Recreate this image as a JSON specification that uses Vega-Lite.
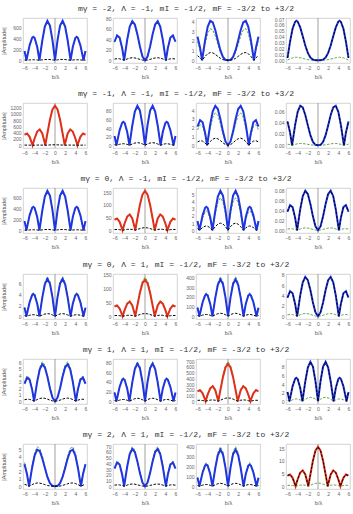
{
"$schema":"https://vega.github.io/schema/vega-lite/v6.json",
"padding":{"left":1,"top":5,"right":2,"bottom":0},
"spacing":10,
"config":{
"view":{"stroke":"#c8c8c8","strokeWidth":0.8},
"axis":{"labelFont":"Liberation Sans","labelFontSize":5,"labelColor":"#666","titleFont":"Liberation Sans","titleFontSize":5.5,"titleFontWeight":"normal","titleColor":"#555","grid":false,"domain":false,"ticks":false,"labelPadding":2,"labelOverlap":false,"format":"d"},
"axisX":{"titlePadding":4,"labelFlush":false},
"axisY":{"titlePadding":1.5,"labelOverlap":false},
"title":{"font":"Liberation Mono","fontSize":8,"fontWeight":"normal","color":"#333","offset":3,"anchor":"middle","dx":9}
},
"datasets":{
"r1":[
{"c":1,"b":-6,"a":170,"g":166,"k":3.4},{"c":1,"b":-5.613,"a":0,"g":0,"k":0},{"c":1,"b":-5.5,"a":53,"g":52,"k":1.1},{"c":1,"b":-5,"a":276,"g":271,"k":5.5},{"c":1,"b":-4.5,"a":415,"g":407,"k":8.3},{"c":1,"b":-4.265,"a":434,"g":426,"k":8.7},{"c":1,"b":-4,"a":411,"g":403,"k":8.2},{"c":1,"b":-3.5,"a":245,"g":240,"k":4.9},{"c":1,"b":-3.065,"a":0,"g":0,"k":0},{"c":1,"b":-3,"a":41.8,"g":41,"k":0.8},{"c":1,"b":-2.5,"a":365,"g":358,"k":7.3},{"c":1,"b":-2,"a":624,"g":611,"k":12.5},{"c":1,"b":-1.5,"a":730,"g":715,"k":14.6},{"c":1,"b":-1,"a":641,"g":628,"k":12.8},{"c":1,"b":-0.5,"a":373,"g":366,"k":7.5},{"c":1,"b":0,"a":0,"g":0,"k":0},
{"c":1,"b":0.5,"a":373,"g":366,"k":7.5},{"c":1,"b":1,"a":641,"g":628,"k":12.8},{"c":1,"b":1.5,"a":730,"g":715,"k":14.6},{"c":1,"b":2,"a":624,"g":611,"k":12.5},{"c":1,"b":2.5,"a":365,"g":358,"k":7.3},{"c":1,"b":3,"a":41.8,"g":41,"k":0.8},{"c":1,"b":3.065,"a":0,"g":0,"k":0},{"c":1,"b":3.5,"a":245,"g":240,"k":4.9},{"c":1,"b":4,"a":411,"g":403,"k":8.2},{"c":1,"b":4.265,"a":434,"g":426,"k":8.7},{"c":1,"b":4.5,"a":415,"g":407,"k":8.3},{"c":1,"b":5,"a":276,"g":271,"k":5.5},{"c":1,"b":5.5,"a":53,"g":52,"k":1.1},{"c":1,"b":5.613,"a":0,"g":0,"k":0},{"c":1,"b":6,"a":170,"g":166,"k":3.4},
{"c":2,"b":-6,"a":35.5,"g":34.4,"k":2.31},{"c":2,"b":-5.5,"a":47.7,"g":46.3,"k":3.1},{"c":2,"b":-5,"a":43.7,"g":42.4,"k":2.84},{"c":2,"b":-4.5,"a":23.5,"g":22.8,"k":1.53},{"c":2,"b":-4.109,"a":0,"g":0,"k":0},{"c":2,"b":-4,"a":7.18,"g":6.96,"k":0.47},{"c":2,"b":-3.5,"a":39.7,"g":38.5,"k":2.58},{"c":2,"b":-3,"a":64.5,"g":62.6,"k":4.19},{"c":2,"b":-2.5,"a":74.8,"g":72.6,"k":4.86},{"c":2,"b":-2,"a":68.7,"g":66.6,"k":4.47},{"c":2,"b":-1.5,"a":49.9,"g":48.4,"k":3.24},{"c":2,"b":-1,"a":26.3,"g":25.6,"k":1.71},{"c":2,"b":-0.5,"a":7.28,"g":7.06,"k":0.47},{"c":2,"b":0,"a":0,"g":0,"k":0},
{"c":2,"b":0.5,"a":7.28,"g":7.06,"k":0.47},{"c":2,"b":1,"a":26.3,"g":25.6,"k":1.71},{"c":2,"b":1.5,"a":49.9,"g":48.4,"k":3.24},{"c":2,"b":2,"a":68.7,"g":66.6,"k":4.47},{"c":2,"b":2.5,"a":74.8,"g":72.6,"k":4.86},{"c":2,"b":3,"a":64.5,"g":62.6,"k":4.19},{"c":2,"b":3.5,"a":39.7,"g":38.5,"k":2.58},{"c":2,"b":4,"a":7.18,"g":6.96,"k":0.47},{"c":2,"b":4.109,"a":0,"g":0,"k":0},{"c":2,"b":4.5,"a":23.5,"g":22.8,"k":1.53},{"c":2,"b":5,"a":43.7,"g":42.4,"k":2.84},{"c":2,"b":5.5,"a":47.7,"g":46.3,"k":3.1},{"c":2,"b":6,"a":35.5,"g":34.4,"k":2.31},
{"c":3,"b":-6,"a":2.436,"g":1.948,"k":0.475},{"c":3,"b":-5.5,"a":1.303,"g":1.042,"k":0.254},{"c":3,"b":-5.104,"a":0,"g":0,"k":0},{"c":3,"b":-5,"a":0.362,"g":0.289,"k":0.071},{"c":3,"b":-4.5,"a":2.097,"g":1.677,"k":0.409},{"c":3,"b":-4,"a":3.445,"g":2.756,"k":0.672},{"c":3,"b":-3.5,"a":4.064,"g":3.251,"k":0.793},{"c":3,"b":-3,"a":3.902,"g":3.122,"k":0.761},{"c":3,"b":-2.5,"a":3.123,"g":2.498,"k":0.609},{"c":3,"b":-2,"a":2.046,"g":1.636,"k":0.399},{"c":3,"b":-1.5,"a":1.036,"g":0.828,"k":0.202},{"c":3,"b":-1,"a":0.348,"g":0.279,"k":0.068},{"c":3,"b":-0.5,"a":0.047,"g":0.038,"k":0.009},{"c":3,"b":0,"a":0,"g":0,"k":0},
{"c":3,"b":0.5,"a":0.047,"g":0.038,"k":0.009},{"c":3,"b":1,"a":0.348,"g":0.279,"k":0.068},{"c":3,"b":1.5,"a":1.036,"g":0.828,"k":0.202},{"c":3,"b":2,"a":2.046,"g":1.636,"k":0.399},{"c":3,"b":2.5,"a":3.123,"g":2.498,"k":0.609},{"c":3,"b":3,"a":3.902,"g":3.122,"k":0.761},{"c":3,"b":3.5,"a":4.064,"g":3.251,"k":0.793},{"c":3,"b":4,"a":3.445,"g":2.756,"k":0.672},{"c":3,"b":4.5,"a":2.097,"g":1.677,"k":0.409},{"c":3,"b":5,"a":0.362,"g":0.289,"k":0.071},{"c":3,"b":5.104,"a":0,"g":0,"k":0},{"c":3,"b":5.5,"a":1.303,"g":1.042,"k":0.254},{"c":3,"b":6,"a":2.436,"g":1.948,"k":0.475},
{"c":4,"b":-6,"a":0.004,"g":0.0003},{"c":4,"b":-5.5,"a":0.0317,"g":0.00238},{"c":4,"b":-5,"a":0.0537,"g":0.00403},{"c":4,"b":-4.5,"a":0.0653,"g":0.0049},{"c":4,"b":-4.254,"a":0.067,"g":0.00502},{"c":4,"b":-4,"a":0.0656,"g":0.00492},{"c":4,"b":-3.5,"a":0.0558,"g":0.00418},{"c":4,"b":-3,"a":0.0407,"g":0.00305},{"c":4,"b":-2.5,"a":0.025,"g":0.00188},{"c":4,"b":-2,"a":0.0124,"g":0.00093},{"c":4,"b":-1.5,"a":0.00451,"g":0.00034},{"c":4,"b":-1,"a":0.00099,"g":0.00007},{"c":4,"b":-0.5,"a":0.00007,"g":0},{"c":4,"b":0,"a":0,"g":0},
{"c":4,"b":0.5,"a":0.00007,"g":0},{"c":4,"b":1,"a":0.00099,"g":0.00007},{"c":4,"b":1.5,"a":0.00451,"g":0.00034},{"c":4,"b":2,"a":0.0124,"g":0.00093},{"c":4,"b":2.5,"a":0.025,"g":0.00188},{"c":4,"b":3,"a":0.0407,"g":0.00305},{"c":4,"b":3.5,"a":0.0558,"g":0.00418},{"c":4,"b":4,"a":0.0656,"g":0.00492},{"c":4,"b":4.254,"a":0.067,"g":0.00502},{"c":4,"b":4.5,"a":0.0653,"g":0.0049},{"c":4,"b":5,"a":0.0537,"g":0.00403},{"c":4,"b":5.5,"a":0.0317,"g":0.00238},{"c":4,"b":6,"a":0.004,"g":0.0003}
],
"r2":[
{"c":1,"b":-6,"a":336,"g":332,"k":4},{"c":1,"b":-5.5,"a":375,"g":371,"k":4.5},{"c":1,"b":-5,"a":269,"g":266,"k":3.2},{"c":1,"b":-4.5,"a":44.4,"g":43.9,"k":0.5},{"c":1,"b":-4.416,"a":0,"g":0,"k":0},{"c":1,"b":-4,"a":224,"g":222,"k":2.7},{"c":1,"b":-3.5,"a":437,"g":432,"k":5.2},{"c":1,"b":-3,"a":505,"g":500,"k":6.1},{"c":1,"b":-2.5,"a":377,"g":373,"k":4.5},{"c":1,"b":-2,"a":61,"g":60.4,"k":0.7},{"c":1,"b":-1.924,"a":0,"g":0,"k":0},{"c":1,"b":-1.5,"a":374,"g":370,"k":4.5},{"c":1,"b":-1,"a":814,"g":806,"k":9.8},{"c":1,"b":-0.5,"a":1140,"g":1128,"k":13.7},{"c":1,"b":0,"a":1260,"g":1247,"k":15.1},
{"c":1,"b":0.5,"a":1140,"g":1128,"k":13.7},{"c":1,"b":1,"a":814,"g":806,"k":9.8},{"c":1,"b":1.5,"a":374,"g":370,"k":4.5},{"c":1,"b":1.924,"a":0,"g":0,"k":0},{"c":1,"b":2,"a":61,"g":60.4,"k":0.7},{"c":1,"b":2.5,"a":377,"g":373,"k":4.5},{"c":1,"b":3,"a":505,"g":500,"k":6.1},{"c":1,"b":3.5,"a":437,"g":432,"k":5.2},{"c":1,"b":4,"a":224,"g":222,"k":2.7},{"c":1,"b":4.416,"a":0,"g":0,"k":0},{"c":1,"b":4.5,"a":44.4,"g":43.9,"k":0.5},{"c":1,"b":5,"a":269,"g":266,"k":3.2},{"c":1,"b":5.5,"a":375,"g":371,"k":4.5},{"c":1,"b":6,"a":336,"g":332,"k":4},
{"c":2,"b":-6,"a":21.4,"g":21,"k":1.39},{"c":2,"b":-5.613,"a":0,"g":0,"k":0},{"c":2,"b":-5.5,"a":6.67,"g":6.5,"k":0.43},{"c":2,"b":-5,"a":34.8,"g":34.1,"k":2.26},{"c":2,"b":-4.5,"a":52.3,"g":51.3,"k":3.4},{"c":2,"b":-4.265,"a":54.7,"g":53.6,"k":3.56},{"c":2,"b":-4,"a":51.8,"g":50.8,"k":3.37},{"c":2,"b":-3.5,"a":30.8,"g":30.2,"k":2},{"c":2,"b":-3.065,"a":0,"g":0,"k":0},{"c":2,"b":-3,"a":5.26,"g":5.15,"k":0.34},{"c":2,"b":-2.5,"a":46,"g":45.1,"k":2.99},{"c":2,"b":-2,"a":78.5,"g":76.9,"k":5.1},{"c":2,"b":-1.5,"a":91.9,"g":90.1,"k":5.97},{"c":2,"b":-1,"a":80.6,"g":79,"k":5.24},{"c":2,"b":-0.5,"a":47,"g":46.1,"k":3.06},{"c":2,"b":0,"a":0,"g":0,"k":0},
{"c":2,"b":0.5,"a":47,"g":46.1,"k":3.06},{"c":2,"b":1,"a":80.6,"g":79,"k":5.24},{"c":2,"b":1.5,"a":91.9,"g":90.1,"k":5.97},{"c":2,"b":2,"a":78.5,"g":76.9,"k":5.1},{"c":2,"b":2.5,"a":46,"g":45.1,"k":2.99},{"c":2,"b":3,"a":5.26,"g":5.15,"k":0.34},{"c":2,"b":3.065,"a":0,"g":0,"k":0},{"c":2,"b":3.5,"a":30.8,"g":30.2,"k":2},{"c":2,"b":4,"a":51.8,"g":50.8,"k":3.37},{"c":2,"b":4.265,"a":54.7,"g":53.6,"k":3.56},{"c":2,"b":4.5,"a":52.3,"g":51.3,"k":3.4},{"c":2,"b":5,"a":34.8,"g":34.1,"k":2.26},{"c":2,"b":5.5,"a":6.67,"g":6.5,"k":0.43},{"c":2,"b":5.613,"a":0,"g":0,"k":0},{"c":2,"b":6,"a":21.4,"g":21,"k":1.39},
{"c":3,"b":-6,"a":2.129,"g":1.746,"k":0.383},{"c":3,"b":-5.5,"a":2.866,"g":2.35,"k":0.516},{"c":3,"b":-5,"a":2.626,"g":2.153,"k":0.473},{"c":3,"b":-4.5,"a":1.413,"g":1.159,"k":0.254},{"c":3,"b":-4.109,"a":0,"g":0,"k":0},{"c":3,"b":-4,"a":0.431,"g":0.354,"k":0.078},{"c":3,"b":-3.5,"a":2.382,"g":1.953,"k":0.429},{"c":3,"b":-3,"a":3.874,"g":3.177,"k":0.697},{"c":3,"b":-2.5,"a":4.494,"g":3.685,"k":0.809},{"c":3,"b":-2,"a":4.126,"g":3.384,"k":0.743},{"c":3,"b":-1.5,"a":2.997,"g":2.458,"k":0.539},{"c":3,"b":-1,"a":1.583,"g":1.298,"k":0.285},{"c":3,"b":-0.5,"a":0.438,"g":0.359,"k":0.079},{"c":3,"b":0,"a":0,"g":0,"k":0},
{"c":3,"b":0.5,"a":0.438,"g":0.359,"k":0.079},{"c":3,"b":1,"a":1.583,"g":1.298,"k":0.285},{"c":3,"b":1.5,"a":2.997,"g":2.458,"k":0.539},{"c":3,"b":2,"a":4.126,"g":3.384,"k":0.743},{"c":3,"b":2.5,"a":4.494,"g":3.685,"k":0.809},{"c":3,"b":3,"a":3.874,"g":3.177,"k":0.697},{"c":3,"b":3.5,"a":2.382,"g":1.953,"k":0.429},{"c":3,"b":4,"a":0.431,"g":0.354,"k":0.078},{"c":3,"b":4.109,"a":0,"g":0,"k":0},{"c":3,"b":4.5,"a":1.413,"g":1.159,"k":0.254},{"c":3,"b":5,"a":2.626,"g":2.153,"k":0.473},{"c":3,"b":5.5,"a":2.866,"g":2.35,"k":0.516},{"c":3,"b":6,"a":2.129,"g":1.746,"k":0.383},
{"c":4,"b":-6,"a":0.0421,"g":0.0019},{"c":4,"b":-5.5,"a":0.0225,"g":0.001},{"c":4,"b":-5.104,"a":0,"g":0},{"c":4,"b":-5,"a":0.0062,"g":0.0003},{"c":4,"b":-4.5,"a":0.0362,"g":0.0016},{"c":4,"b":-4,"a":0.0595,"g":0.0027},{"c":4,"b":-3.5,"a":0.0702,"g":0.0032},{"c":4,"b":-3,"a":0.0674,"g":0.003},{"c":4,"b":-2.5,"a":0.0539,"g":0.0024},{"c":4,"b":-2,"a":0.0353,"g":0.0016},{"c":4,"b":-1.5,"a":0.0179,"g":0.0008},{"c":4,"b":-1,"a":0.006,"g":0.0003},{"c":4,"b":-0.5,"a":0.0008,"g":0},{"c":4,"b":0,"a":0,"g":0},
{"c":4,"b":0.5,"a":0.0008,"g":0},{"c":4,"b":1,"a":0.006,"g":0.0003},{"c":4,"b":1.5,"a":0.0179,"g":0.0008},{"c":4,"b":2,"a":0.0353,"g":0.0016},{"c":4,"b":2.5,"a":0.0539,"g":0.0024},{"c":4,"b":3,"a":0.0674,"g":0.003},{"c":4,"b":3.5,"a":0.0702,"g":0.0032},{"c":4,"b":4,"a":0.0595,"g":0.0027},{"c":4,"b":4.5,"a":0.0362,"g":0.0016},{"c":4,"b":5,"a":0.0062,"g":0.0003},{"c":4,"b":5.104,"a":0,"g":0},{"c":4,"b":5.5,"a":0.0225,"g":0.001},{"c":4,"b":6,"a":0.0421,"g":0.0019}
],
"r3":[
{"c":1,"b":-6,"a":167,"g":164,"k":3.3},{"c":1,"b":-5.613,"a":0,"g":0,"k":0},{"c":1,"b":-5.5,"a":52.2,"g":51.2,"k":1},{"c":1,"b":-5,"a":272,"g":267,"k":5.4},{"c":1,"b":-4.5,"a":409,"g":401,"k":8.2},{"c":1,"b":-4.265,"a":428,"g":420,"k":8.6},{"c":1,"b":-4,"a":405,"g":397,"k":8.1},{"c":1,"b":-3.5,"a":241,"g":237,"k":4.8},{"c":1,"b":-3.065,"a":0,"g":0,"k":0},{"c":1,"b":-3,"a":41.2,"g":40.4,"k":0.8},{"c":1,"b":-2.5,"a":360,"g":353,"k":7.2},{"c":1,"b":-2,"a":615,"g":603,"k":12.3},{"c":1,"b":-1.5,"a":720,"g":705,"k":14.4},{"c":1,"b":-1,"a":631,"g":619,"k":12.6},{"c":1,"b":-0.5,"a":368,"g":361,"k":7.4},{"c":1,"b":0,"a":0,"g":0,"k":0},
{"c":1,"b":0.5,"a":368,"g":361,"k":7.4},{"c":1,"b":1,"a":631,"g":619,"k":12.6},{"c":1,"b":1.5,"a":720,"g":705,"k":14.4},{"c":1,"b":2,"a":615,"g":603,"k":12.3},{"c":1,"b":2.5,"a":360,"g":353,"k":7.2},{"c":1,"b":3,"a":41.2,"g":40.4,"k":0.8},{"c":1,"b":3.065,"a":0,"g":0,"k":0},{"c":1,"b":3.5,"a":241,"g":237,"k":4.8},{"c":1,"b":4,"a":405,"g":397,"k":8.1},{"c":1,"b":4.265,"a":428,"g":420,"k":8.6},{"c":1,"b":4.5,"a":409,"g":401,"k":8.2},{"c":1,"b":5,"a":272,"g":267,"k":5.4},{"c":1,"b":5.5,"a":52.2,"g":51.2,"k":1},{"c":1,"b":5.613,"a":0,"g":0,"k":0},{"c":1,"b":6,"a":167,"g":164,"k":3.3},
{"c":2,"b":-6,"a":41.3,"g":40.9,"k":2.68},{"c":2,"b":-5.5,"a":46.1,"g":45.7,"k":3},{"c":2,"b":-5,"a":33.1,"g":32.8,"k":2.15},{"c":2,"b":-4.5,"a":5.46,"g":5.4,"k":0.35},{"c":2,"b":-4.416,"a":0,"g":0,"k":0},{"c":2,"b":-4,"a":27.5,"g":27.3,"k":1.79},{"c":2,"b":-3.5,"a":53.7,"g":53.2,"k":3.49},{"c":2,"b":-3,"a":62.2,"g":61.5,"k":4.04},{"c":2,"b":-2.5,"a":46.4,"g":45.9,"k":3.01},{"c":2,"b":-2,"a":7.5,"g":7.43,"k":0.49},{"c":2,"b":-1.924,"a":0,"g":0,"k":0},{"c":2,"b":-1.5,"a":45.9,"g":45.5,"k":2.99},{"c":2,"b":-1,"a":100,"g":99.1,"k":6.51},{"c":2,"b":-0.5,"a":140,"g":139,"k":9.11},{"c":2,"b":0,"a":155,"g":153,"k":10.1},
{"c":2,"b":0.5,"a":140,"g":139,"k":9.11},{"c":2,"b":1,"a":100,"g":99.1,"k":6.51},{"c":2,"b":1.5,"a":45.9,"g":45.5,"k":2.99},{"c":2,"b":1.924,"a":0,"g":0,"k":0},{"c":2,"b":2,"a":7.5,"g":7.43,"k":0.49},{"c":2,"b":2.5,"a":46.4,"g":45.9,"k":3.01},{"c":2,"b":3,"a":62.2,"g":61.5,"k":4.04},{"c":2,"b":3.5,"a":53.7,"g":53.2,"k":3.49},{"c":2,"b":4,"a":27.5,"g":27.3,"k":1.79},{"c":2,"b":4.416,"a":0,"g":0,"k":0},{"c":2,"b":4.5,"a":5.46,"g":5.4,"k":0.35},{"c":2,"b":5,"a":33.1,"g":32.8,"k":2.15},{"c":2,"b":5.5,"a":46.1,"g":45.7,"k":3},{"c":2,"b":6,"a":41.3,"g":40.9,"k":2.68},
{"c":3,"b":-6,"a":1.28,"g":1.05,"k":0.23},{"c":3,"b":-5.613,"a":0,"g":0,"k":0},{"c":3,"b":-5.5,"a":0.4,"g":0.327,"k":0.072},{"c":3,"b":-5,"a":2.08,"g":1.71,"k":0.374},{"c":3,"b":-4.5,"a":3.13,"g":2.56,"k":0.563},{"c":3,"b":-4.265,"a":3.27,"g":2.68,"k":0.589},{"c":3,"b":-4,"a":3.1,"g":2.54,"k":0.557},{"c":3,"b":-3.5,"a":1.84,"g":1.51,"k":0.332},{"c":3,"b":-3.065,"a":0,"g":0,"k":0},{"c":3,"b":-3,"a":0.315,"g":0.258,"k":0.057},{"c":3,"b":-2.5,"a":2.75,"g":2.26,"k":0.495},{"c":3,"b":-2,"a":4.7,"g":3.85,"k":0.846},{"c":3,"b":-1.5,"a":5.5,"g":4.51,"k":0.989},{"c":3,"b":-1,"a":4.82,"g":3.96,"k":0.868},{"c":3,"b":-0.5,"a":2.81,"g":2.31,"k":0.506},{"c":3,"b":0,"a":0,"g":0,"k":0},
{"c":3,"b":0.5,"a":2.81,"g":2.31,"k":0.506},{"c":3,"b":1,"a":4.82,"g":3.96,"k":0.868},{"c":3,"b":1.5,"a":5.5,"g":4.51,"k":0.989},{"c":3,"b":2,"a":4.7,"g":3.85,"k":0.846},{"c":3,"b":2.5,"a":2.75,"g":2.26,"k":0.495},{"c":3,"b":3,"a":0.315,"g":0.258,"k":0.057},{"c":3,"b":3.065,"a":0,"g":0,"k":0},{"c":3,"b":3.5,"a":1.84,"g":1.51,"k":0.332},{"c":3,"b":4,"a":3.1,"g":2.54,"k":0.557},{"c":3,"b":4.265,"a":3.27,"g":2.68,"k":0.589},{"c":3,"b":4.5,"a":3.13,"g":2.56,"k":0.563},{"c":3,"b":5,"a":2.08,"g":1.71,"k":0.374},{"c":3,"b":5.5,"a":0.4,"g":0.327,"k":0.072},{"c":3,"b":5.613,"a":0,"g":0,"k":0},{"c":3,"b":6,"a":1.28,"g":1.05,"k":0.23},
{"c":4,"b":-6,"a":0.0378,"g":0.0023},{"c":4,"b":-5.5,"a":0.0509,"g":0.0031},{"c":4,"b":-5,"a":0.0467,"g":0.0028},{"c":4,"b":-4.5,"a":0.0251,"g":0.0015},{"c":4,"b":-4.109,"a":0,"g":0},{"c":4,"b":-4,"a":0.0077,"g":0.0005},{"c":4,"b":-3.5,"a":0.0423,"g":0.0025},{"c":4,"b":-3,"a":0.0689,"g":0.0041},{"c":4,"b":-2.5,"a":0.0799,"g":0.0048},{"c":4,"b":-2,"a":0.0733,"g":0.0044},{"c":4,"b":-1.5,"a":0.0533,"g":0.0032},{"c":4,"b":-1,"a":0.0281,"g":0.0017},{"c":4,"b":-0.5,"a":0.0078,"g":0.0005},{"c":4,"b":0,"a":0,"g":0},
{"c":4,"b":0.5,"a":0.0078,"g":0.0005},{"c":4,"b":1,"a":0.0281,"g":0.0017},{"c":4,"b":1.5,"a":0.0533,"g":0.0032},{"c":4,"b":2,"a":0.0733,"g":0.0044},{"c":4,"b":2.5,"a":0.0799,"g":0.0048},{"c":4,"b":3,"a":0.0689,"g":0.0041},{"c":4,"b":3.5,"a":0.0423,"g":0.0025},{"c":4,"b":4,"a":0.0077,"g":0.0005},{"c":4,"b":4.109,"a":0,"g":0},{"c":4,"b":4.5,"a":0.0251,"g":0.0015},{"c":4,"b":5,"a":0.0467,"g":0.0028},{"c":4,"b":5.5,"a":0.0509,"g":0.0031},{"c":4,"b":6,"a":0.0378,"g":0.0023}
],
"r4":[
{"c":1,"b":-6,"a":1.58,"g":1.68,"k":0.111},{"c":1,"b":-5.613,"a":0,"g":0,"k":0},{"c":1,"b":-5.5,"a":0.494,"g":0.524,"k":0.035},{"c":1,"b":-5,"a":2.57,"g":2.73,"k":0.18},{"c":1,"b":-4.5,"a":3.87,"g":4.1,"k":0.271},{"c":1,"b":-4.265,"a":4.05,"g":4.29,"k":0.283},{"c":1,"b":-4,"a":3.83,"g":4.06,"k":0.268},{"c":1,"b":-3.5,"a":2.28,"g":2.42,"k":0.16},{"c":1,"b":-3.065,"a":0,"g":0,"k":0},{"c":1,"b":-3,"a":0.39,"g":0.413,"k":0.027},{"c":1,"b":-2.5,"a":3.41,"g":3.61,"k":0.238},{"c":1,"b":-2,"a":5.82,"g":6.17,"k":0.407},{"c":1,"b":-1.5,"a":6.81,"g":7.21,"k":0.476},{"c":1,"b":-1,"a":5.97,"g":6.33,"k":0.418},{"c":1,"b":-0.5,"a":3.48,"g":3.69,"k":0.244},{"c":1,"b":0,"a":0,"g":0,"k":0},
{"c":1,"b":0.5,"a":3.48,"g":3.69,"k":0.244},{"c":1,"b":1,"a":5.97,"g":6.33,"k":0.418},{"c":1,"b":1.5,"a":6.81,"g":7.21,"k":0.476},{"c":1,"b":2,"a":5.82,"g":6.17,"k":0.407},{"c":1,"b":2.5,"a":3.41,"g":3.61,"k":0.238},{"c":1,"b":3,"a":0.39,"g":0.413,"k":0.027},{"c":1,"b":3.065,"a":0,"g":0,"k":0},{"c":1,"b":3.5,"a":2.28,"g":2.42,"k":0.16},{"c":1,"b":4,"a":3.83,"g":4.06,"k":0.268},{"c":1,"b":4.265,"a":4.05,"g":4.29,"k":0.283},{"c":1,"b":4.5,"a":3.87,"g":4.1,"k":0.271},{"c":1,"b":5,"a":2.57,"g":2.73,"k":0.18},{"c":1,"b":5.5,"a":0.494,"g":0.524,"k":0.035},{"c":1,"b":5.613,"a":0,"g":0,"k":0},{"c":1,"b":6,"a":1.58,"g":1.68,"k":0.111},
{"c":2,"b":-6,"a":34.6,"g":37,"k":2.6},{"c":2,"b":-5.5,"a":38.7,"g":41.4,"k":2.9},{"c":2,"b":-5,"a":27.8,"g":29.7,"k":2.08},{"c":2,"b":-4.5,"a":4.58,"g":4.9,"k":0.34},{"c":2,"b":-4.416,"a":0,"g":0,"k":0},{"c":2,"b":-4,"a":23.1,"g":24.7,"k":1.73},{"c":2,"b":-3.5,"a":45.1,"g":48.2,"k":3.38},{"c":2,"b":-3,"a":52.1,"g":55.8,"k":3.91},{"c":2,"b":-2.5,"a":38.9,"g":41.6,"k":2.92},{"c":2,"b":-2,"a":6.29,"g":6.73,"k":0.47},{"c":2,"b":-1.924,"a":0,"g":0,"k":0},{"c":2,"b":-1.5,"a":38.5,"g":41.2,"k":2.89},{"c":2,"b":-1,"a":84,"g":89.8,"k":6.3},{"c":2,"b":-0.5,"a":118,"g":126,"k":8.82},{"c":2,"b":0,"a":130,"g":139,"k":9.75},
{"c":2,"b":0.5,"a":118,"g":126,"k":8.82},{"c":2,"b":1,"a":84,"g":89.8,"k":6.3},{"c":2,"b":1.5,"a":38.5,"g":41.2,"k":2.89},{"c":2,"b":1.924,"a":0,"g":0,"k":0},{"c":2,"b":2,"a":6.29,"g":6.73,"k":0.47},{"c":2,"b":2.5,"a":38.9,"g":41.6,"k":2.92},{"c":2,"b":3,"a":52.1,"g":55.8,"k":3.91},{"c":2,"b":3.5,"a":45.1,"g":48.2,"k":3.38},{"c":2,"b":4,"a":23.1,"g":24.7,"k":1.73},{"c":2,"b":4.416,"a":0,"g":0,"k":0},{"c":2,"b":4.5,"a":4.58,"g":4.9,"k":0.34},{"c":2,"b":5,"a":27.8,"g":29.7,"k":2.08},{"c":2,"b":5.5,"a":38.7,"g":41.4,"k":2.9},{"c":2,"b":6,"a":34.6,"g":37,"k":2.6},
{"c":3,"b":-6,"a":88.3,"g":94.5,"k":7.06},{"c":3,"b":-5.613,"a":0,"g":0,"k":0},{"c":3,"b":-5.5,"a":27.6,"g":29.5,"k":2.2},{"c":3,"b":-5,"a":144,"g":154,"k":11.5},{"c":3,"b":-4.5,"a":216,"g":231,"k":17.3},{"c":3,"b":-4.265,"a":226,"g":242,"k":18.1},{"c":3,"b":-4,"a":214,"g":229,"k":17.1},{"c":3,"b":-3.5,"a":127,"g":136,"k":10.2},{"c":3,"b":-3.065,"a":0,"g":0,"k":0},{"c":3,"b":-3,"a":21.7,"g":23.2,"k":1.74},{"c":3,"b":-2.5,"a":190,"g":203,"k":15.2},{"c":3,"b":-2,"a":325,"g":347,"k":26},{"c":3,"b":-1.5,"a":380,"g":407,"k":30.4},{"c":3,"b":-1,"a":333,"g":357,"k":26.7},{"c":3,"b":-0.5,"a":194,"g":208,"k":15.5},{"c":3,"b":0,"a":0,"g":0,"k":0},
{"c":3,"b":0.5,"a":194,"g":208,"k":15.5},{"c":3,"b":1,"a":333,"g":357,"k":26.7},{"c":3,"b":1.5,"a":380,"g":407,"k":30.4},{"c":3,"b":2,"a":325,"g":347,"k":26},{"c":3,"b":2.5,"a":190,"g":203,"k":15.2},{"c":3,"b":3,"a":21.7,"g":23.2,"k":1.74},{"c":3,"b":3.065,"a":0,"g":0,"k":0},{"c":3,"b":3.5,"a":127,"g":136,"k":10.2},{"c":3,"b":4,"a":214,"g":229,"k":17.1},{"c":3,"b":4.265,"a":226,"g":242,"k":18.1},{"c":3,"b":4.5,"a":216,"g":231,"k":17.3},{"c":3,"b":5,"a":144,"g":154,"k":11.5},{"c":3,"b":5.5,"a":27.6,"g":29.5,"k":2.2},{"c":3,"b":5.613,"a":0,"g":0,"k":0},{"c":3,"b":6,"a":88.3,"g":94.5,"k":7.06},
{"c":4,"b":-6,"a":3.59,"g":0.251},{"c":4,"b":-5.5,"a":4.83,"g":0.338},{"c":4,"b":-5,"a":4.43,"g":0.31},{"c":4,"b":-4.5,"a":2.38,"g":0.167},{"c":4,"b":-4.109,"a":0,"g":0},{"c":4,"b":-4,"a":0.727,"g":0.051},{"c":4,"b":-3.5,"a":4.02,"g":0.281},{"c":4,"b":-3,"a":6.53,"g":0.457},{"c":4,"b":-2.5,"a":7.58,"g":0.53},{"c":4,"b":-2,"a":6.96,"g":0.487},{"c":4,"b":-1.5,"a":5.05,"g":0.354},{"c":4,"b":-1,"a":2.67,"g":0.187},{"c":4,"b":-0.5,"a":0.738,"g":0.052},{"c":4,"b":0,"a":0,"g":0},
{"c":4,"b":0.5,"a":0.738,"g":0.052},{"c":4,"b":1,"a":2.67,"g":0.187},{"c":4,"b":1.5,"a":5.05,"g":0.354},{"c":4,"b":2,"a":6.96,"g":0.487},{"c":4,"b":2.5,"a":7.58,"g":0.53},{"c":4,"b":3,"a":6.53,"g":0.457},{"c":4,"b":3.5,"a":4.02,"g":0.281},{"c":4,"b":4,"a":0.727,"g":0.051},{"c":4,"b":4.109,"a":0,"g":0},{"c":4,"b":4.5,"a":2.38,"g":0.167},{"c":4,"b":5,"a":4.43,"g":0.31},{"c":4,"b":5.5,"a":4.83,"g":0.338},{"c":4,"b":6,"a":3.59,"g":0.251}
],
"r5":[
{"c":1,"b":-6,"a":2.69,"g":2.88,"k":0.229},{"c":1,"b":-5.5,"a":3.62,"g":3.88,"k":0.308},{"c":1,"b":-5,"a":3.32,"g":3.55,"k":0.282},{"c":1,"b":-4.5,"a":1.79,"g":1.91,"k":0.152},{"c":1,"b":-4.109,"a":0,"g":0,"k":0},{"c":1,"b":-4,"a":0.545,"g":0.583,"k":0.046},{"c":1,"b":-3.5,"a":3.01,"g":3.22,"k":0.256},{"c":1,"b":-3,"a":4.9,"g":5.24,"k":0.417},{"c":1,"b":-2.5,"a":5.68,"g":6.08,"k":0.483},{"c":1,"b":-2,"a":5.22,"g":5.59,"k":0.444},{"c":1,"b":-1.5,"a":3.79,"g":4.06,"k":0.322},{"c":1,"b":-1,"a":2,"g":2.14,"k":0.17},{"c":1,"b":-0.5,"a":0.553,"g":0.592,"k":0.047},{"c":1,"b":0,"a":0,"g":0,"k":0},
{"c":1,"b":0.5,"a":0.553,"g":0.592,"k":0.047},{"c":1,"b":1,"a":2,"g":2.14,"k":0.17},{"c":1,"b":1.5,"a":3.79,"g":4.06,"k":0.322},{"c":1,"b":2,"a":5.22,"g":5.59,"k":0.444},{"c":1,"b":2.5,"a":5.68,"g":6.08,"k":0.483},{"c":1,"b":3,"a":4.9,"g":5.24,"k":0.417},{"c":1,"b":3.5,"a":3.01,"g":3.22,"k":0.256},{"c":1,"b":4,"a":0.545,"g":0.583,"k":0.046},{"c":1,"b":4.109,"a":0,"g":0,"k":0},{"c":1,"b":4.5,"a":1.79,"g":1.91,"k":0.152},{"c":1,"b":5,"a":3.32,"g":3.55,"k":0.282},{"c":1,"b":5.5,"a":3.62,"g":3.88,"k":0.308},{"c":1,"b":6,"a":2.69,"g":2.88,"k":0.229},
{"c":2,"b":-6,"a":18.1,"g":19,"k":1.45},{"c":2,"b":-5.613,"a":0,"g":0,"k":0},{"c":2,"b":-5.5,"a":5.65,"g":5.93,"k":0.45},{"c":2,"b":-5,"a":29.5,"g":31,"k":2.36},{"c":2,"b":-4.5,"a":44.3,"g":46.5,"k":3.54},{"c":2,"b":-4.265,"a":46.4,"g":48.7,"k":3.71},{"c":2,"b":-4,"a":43.9,"g":46.1,"k":3.51},{"c":2,"b":-3.5,"a":26.1,"g":27.4,"k":2.09},{"c":2,"b":-3.065,"a":0,"g":0,"k":0},{"c":2,"b":-3,"a":4.46,"g":4.68,"k":0.36},{"c":2,"b":-2.5,"a":39,"g":41,"k":3.12},{"c":2,"b":-2,"a":66.6,"g":69.9,"k":5.33},{"c":2,"b":-1.5,"a":77.9,"g":81.8,"k":6.23},{"c":2,"b":-1,"a":68.4,"g":71.8,"k":5.47},{"c":2,"b":-0.5,"a":39.9,"g":41.9,"k":3.19},{"c":2,"b":0,"a":0,"g":0,"k":0},
{"c":2,"b":0.5,"a":39.9,"g":41.9,"k":3.19},{"c":2,"b":1,"a":68.4,"g":71.8,"k":5.47},{"c":2,"b":1.5,"a":77.9,"g":81.8,"k":6.23},{"c":2,"b":2,"a":66.6,"g":69.9,"k":5.33},{"c":2,"b":2.5,"a":39,"g":41,"k":3.12},{"c":2,"b":3,"a":4.46,"g":4.68,"k":0.36},{"c":2,"b":3.065,"a":0,"g":0,"k":0},{"c":2,"b":3.5,"a":26.1,"g":27.4,"k":2.09},{"c":2,"b":4,"a":43.9,"g":46.1,"k":3.51},{"c":2,"b":4.265,"a":46.4,"g":48.7,"k":3.71},{"c":2,"b":4.5,"a":44.3,"g":46.5,"k":3.54},{"c":2,"b":5,"a":29.5,"g":31,"k":2.36},{"c":2,"b":5.5,"a":5.65,"g":5.93,"k":0.45},{"c":2,"b":5.613,"a":0,"g":0,"k":0},{"c":2,"b":6,"a":18.1,"g":19,"k":1.45},
{"c":3,"b":-6,"a":173,"g":184,"k":15.6},{"c":3,"b":-5.5,"a":193,"g":205,"k":17.4},{"c":3,"b":-5,"a":139,"g":147,"k":12.5},{"c":3,"b":-4.5,"a":22.9,"g":24.3,"k":2.06},{"c":3,"b":-4.416,"a":0,"g":0,"k":0},{"c":3,"b":-4,"a":115,"g":122,"k":10.4},{"c":3,"b":-3.5,"a":225,"g":239,"k":20.3},{"c":3,"b":-3,"a":261,"g":276,"k":23.5},{"c":3,"b":-2.5,"a":194,"g":206,"k":17.5},{"c":3,"b":-2,"a":31.5,"g":33.4,"k":2.83},{"c":3,"b":-1.924,"a":0,"g":0,"k":0},{"c":3,"b":-1.5,"a":193,"g":204,"k":17.3},{"c":3,"b":-1,"a":420,"g":445,"k":37.8},{"c":3,"b":-0.5,"a":588,"g":623,"k":52.9},{"c":3,"b":0,"a":650,"g":689,"k":58.5},
{"c":3,"b":0.5,"a":588,"g":623,"k":52.9},{"c":3,"b":1,"a":420,"g":445,"k":37.8},{"c":3,"b":1.5,"a":193,"g":204,"k":17.3},{"c":3,"b":1.924,"a":0,"g":0,"k":0},{"c":3,"b":2,"a":31.5,"g":33.4,"k":2.83},{"c":3,"b":2.5,"a":194,"g":206,"k":17.5},{"c":3,"b":3,"a":261,"g":276,"k":23.5},{"c":3,"b":3.5,"a":225,"g":239,"k":20.3},{"c":3,"b":4,"a":115,"g":122,"k":10.4},{"c":3,"b":4.416,"a":0,"g":0,"k":0},{"c":3,"b":4.5,"a":22.9,"g":24.3,"k":2.06},{"c":3,"b":5,"a":139,"g":147,"k":12.5},{"c":3,"b":5.5,"a":193,"g":205,"k":17.4},{"c":3,"b":6,"a":173,"g":184,"k":15.6},
{"c":4,"b":-6,"a":2.14,"g":0.214},{"c":4,"b":-5.613,"a":0,"g":0},{"c":4,"b":-5.5,"a":0.667,"g":0.067},{"c":4,"b":-5,"a":3.48,"g":0.348},{"c":4,"b":-4.5,"a":5.23,"g":0.523},{"c":4,"b":-4.265,"a":5.47,"g":0.547},{"c":4,"b":-4,"a":5.18,"g":0.518},{"c":4,"b":-3.5,"a":3.08,"g":0.308},{"c":4,"b":-3.065,"a":0,"g":0},{"c":4,"b":-3,"a":0.526,"g":0.053},{"c":4,"b":-2.5,"a":4.6,"g":0.46},{"c":4,"b":-2,"a":7.85,"g":0.785},{"c":4,"b":-1.5,"a":9.19,"g":0.919},{"c":4,"b":-1,"a":8.06,"g":0.806},{"c":4,"b":-0.5,"a":4.7,"g":0.47},{"c":4,"b":0,"a":0,"g":0},
{"c":4,"b":0.5,"a":4.7,"g":0.47},{"c":4,"b":1,"a":8.06,"g":0.806},{"c":4,"b":1.5,"a":9.19,"g":0.919},{"c":4,"b":2,"a":7.85,"g":0.785},{"c":4,"b":2.5,"a":4.6,"g":0.46},{"c":4,"b":3,"a":0.526,"g":0.053},{"c":4,"b":3.065,"a":0,"g":0},{"c":4,"b":3.5,"a":3.08,"g":0.308},{"c":4,"b":4,"a":5.18,"g":0.518},{"c":4,"b":4.265,"a":5.47,"g":0.547},{"c":4,"b":4.5,"a":5.23,"g":0.523},{"c":4,"b":5,"a":3.48,"g":0.348},{"c":4,"b":5.5,"a":0.667,"g":0.067},{"c":4,"b":5.613,"a":0,"g":0},{"c":4,"b":6,"a":2.14,"g":0.214}
],
"r6":[
{"c":1,"b":-6,"a":2.97,"g":3.2,"k":0.267},{"c":1,"b":-5.5,"a":1.59,"g":1.71,"k":0.143},{"c":1,"b":-5.104,"a":0,"g":0,"k":0},{"c":1,"b":-5,"a":0.44,"g":0.476,"k":0.04},{"c":1,"b":-4.5,"a":2.55,"g":2.76,"k":0.23},{"c":1,"b":-4,"a":4.2,"g":4.53,"k":0.378},{"c":1,"b":-3.5,"a":4.95,"g":5.35,"k":0.446},{"c":1,"b":-3,"a":4.75,"g":5.13,"k":0.428},{"c":1,"b":-2.5,"a":3.8,"g":4.11,"k":0.342},{"c":1,"b":-2,"a":2.49,"g":2.69,"k":0.224},{"c":1,"b":-1.5,"a":1.26,"g":1.36,"k":0.114},{"c":1,"b":-1,"a":0.424,"g":0.458,"k":0.038},{"c":1,"b":-0.5,"a":0.058,"g":0.062,"k":0.005},{"c":1,"b":0,"a":0,"g":0,"k":0},
{"c":1,"b":0.5,"a":0.058,"g":0.062,"k":0.005},{"c":1,"b":1,"a":0.424,"g":0.458,"k":0.038},{"c":1,"b":1.5,"a":1.26,"g":1.36,"k":0.114},{"c":1,"b":2,"a":2.49,"g":2.69,"k":0.224},{"c":1,"b":2.5,"a":3.8,"g":4.11,"k":0.342},{"c":1,"b":3,"a":4.75,"g":5.13,"k":0.428},{"c":1,"b":3.5,"a":4.95,"g":5.35,"k":0.446},{"c":1,"b":4,"a":4.2,"g":4.53,"k":0.378},{"c":1,"b":4.5,"a":2.55,"g":2.76,"k":0.23},{"c":1,"b":5,"a":0.44,"g":0.476,"k":0.04},{"c":1,"b":5.104,"a":0,"g":0,"k":0},{"c":1,"b":5.5,"a":1.59,"g":1.71,"k":0.143},{"c":1,"b":6,"a":2.97,"g":3.2,"k":0.267},
{"c":2,"b":-6,"a":30.8,"g":32.6,"k":1.85},{"c":2,"b":-5.5,"a":41.4,"g":43.9,"k":2.48},{"c":2,"b":-5,"a":37.9,"g":40.2,"k":2.28},{"c":2,"b":-4.5,"a":20.4,"g":21.6,"k":1.22},{"c":2,"b":-4.109,"a":0,"g":0,"k":0},{"c":2,"b":-4,"a":6.23,"g":6.6,"k":0.37},{"c":2,"b":-3.5,"a":34.4,"g":36.5,"k":2.06},{"c":2,"b":-3,"a":56,"g":59.3,"k":3.36},{"c":2,"b":-2.5,"a":64.9,"g":68.8,"k":3.89},{"c":2,"b":-2,"a":59.6,"g":63.2,"k":3.58},{"c":2,"b":-1.5,"a":43.3,"g":45.9,"k":2.6},{"c":2,"b":-1,"a":22.9,"g":24.2,"k":1.37},{"c":2,"b":-0.5,"a":6.32,"g":6.7,"k":0.38},{"c":2,"b":0,"a":0,"g":0,"k":0},
{"c":2,"b":0.5,"a":6.32,"g":6.7,"k":0.38},{"c":2,"b":1,"a":22.9,"g":24.2,"k":1.37},{"c":2,"b":1.5,"a":43.3,"g":45.9,"k":2.6},{"c":2,"b":2,"a":59.6,"g":63.2,"k":3.58},{"c":2,"b":2.5,"a":64.9,"g":68.8,"k":3.89},{"c":2,"b":3,"a":56,"g":59.3,"k":3.36},{"c":2,"b":3.5,"a":34.4,"g":36.5,"k":2.06},{"c":2,"b":4,"a":6.23,"g":6.6,"k":0.37},{"c":2,"b":4.109,"a":0,"g":0,"k":0},{"c":2,"b":4.5,"a":20.4,"g":21.6,"k":1.22},{"c":2,"b":5,"a":37.9,"g":40.2,"k":2.28},{"c":2,"b":5.5,"a":41.4,"g":43.9,"k":2.48},{"c":2,"b":6,"a":30.8,"g":32.6,"k":1.85},
{"c":3,"b":-6,"a":86,"g":92.9,"k":6.88},{"c":3,"b":-5.613,"a":0,"g":0,"k":0},{"c":3,"b":-5.5,"a":26.8,"g":28.9,"k":2.14},{"c":3,"b":-5,"a":140,"g":151,"k":11.2},{"c":3,"b":-4.5,"a":210,"g":227,"k":16.8},{"c":3,"b":-4.265,"a":220,"g":238,"k":17.6},{"c":3,"b":-4,"a":208,"g":225,"k":16.7},{"c":3,"b":-3.5,"a":124,"g":134,"k":9.93},{"c":3,"b":-3.065,"a":0,"g":0,"k":0},{"c":3,"b":-3,"a":21.2,"g":22.9,"k":1.7},{"c":3,"b":-2.5,"a":185,"g":200,"k":14.8},{"c":3,"b":-2,"a":316,"g":342,"k":25.3},{"c":3,"b":-1.5,"a":370,"g":400,"k":29.6},{"c":3,"b":-1,"a":325,"g":351,"k":26},{"c":3,"b":-0.5,"a":189,"g":204,"k":15.1},{"c":3,"b":0,"a":0,"g":0,"k":0},
{"c":3,"b":0.5,"a":189,"g":204,"k":15.1},{"c":3,"b":1,"a":325,"g":351,"k":26},{"c":3,"b":1.5,"a":370,"g":400,"k":29.6},{"c":3,"b":2,"a":316,"g":342,"k":25.3},{"c":3,"b":2.5,"a":185,"g":200,"k":14.8},{"c":3,"b":3,"a":21.2,"g":22.9,"k":1.7},{"c":3,"b":3.065,"a":0,"g":0,"k":0},{"c":3,"b":3.5,"a":124,"g":134,"k":9.93},{"c":3,"b":4,"a":208,"g":225,"k":16.7},{"c":3,"b":4.265,"a":220,"g":238,"k":17.6},{"c":3,"b":4.5,"a":210,"g":227,"k":16.8},{"c":3,"b":5,"a":140,"g":151,"k":11.2},{"c":3,"b":5.5,"a":26.8,"g":28.9,"k":2.14},{"c":3,"b":5.613,"a":0,"g":0,"k":0},{"c":3,"b":6,"a":86,"g":92.9,"k":6.88},
{"c":4,"b":-6,"a":4.13,"g":0.33},{"c":4,"b":-5.5,"a":4.61,"g":0.37},{"c":4,"b":-5,"a":3.31,"g":0.26},{"c":4,"b":-4.5,"a":0.546,"g":0.044},{"c":4,"b":-4.416,"a":0,"g":0},{"c":4,"b":-4,"a":2.75,"g":0.22},{"c":4,"b":-3.5,"a":5.37,"g":0.43},{"c":4,"b":-3,"a":6.22,"g":0.5},{"c":4,"b":-2.5,"a":4.64,"g":0.37},{"c":4,"b":-2,"a":0.75,"g":0.06},{"c":4,"b":-1.924,"a":0,"g":0},{"c":4,"b":-1.5,"a":4.59,"g":0.37},{"c":4,"b":-1,"a":10,"g":0.8},{"c":4,"b":-0.5,"a":14,"g":1.12},{"c":4,"b":0,"a":15.5,"g":1.24},
{"c":4,"b":0.5,"a":14,"g":1.12},{"c":4,"b":1,"a":10,"g":0.8},{"c":4,"b":1.5,"a":4.59,"g":0.37},{"c":4,"b":1.924,"a":0,"g":0},{"c":4,"b":2,"a":0.75,"g":0.06},{"c":4,"b":2.5,"a":4.64,"g":0.37},{"c":4,"b":3,"a":6.22,"g":0.5},{"c":4,"b":3.5,"a":5.37,"g":0.43},{"c":4,"b":4,"a":2.75,"g":0.22},{"c":4,"b":4.416,"a":0,"g":0},{"c":4,"b":4.5,"a":0.546,"g":0.044},{"c":4,"b":5,"a":3.31,"g":0.26},{"c":4,"b":5.5,"a":4.61,"g":0.37},{"c":4,"b":6,"a":4.13,"g":0.33}
]
},
"vconcat":[
{"title":"mγ = -2, Λ = -1, mI = -1/2, mF = -3/2 to +3/2","data":{"name":"r1"},"spacing":0,"hconcat":[
{"width":64,"height":45,"transform":[{"filter":"datum.c==1"}],"encoding":{"x":{"field":"b","type":"quantitative","title":"b/λ","scale":{"domain":[-6.3,6.3],"nice":false},"axis":{"values":[-6,-4,-2,0,2,4,6],"tickCount":20}}},"layer":[
{"mark":{"type":"rule","color":"#888","strokeWidth":0.8},"transform":[{"filter":"datum.b==0"}],"encoding":{"x":{"datum":0}}},
{"mark":{"type":"line","color":"#4f9a35","strokeWidth":0.9,"strokeDash":[2.5,1.5]},"encoding":{"y":{"field":"g","type":"quantitative","title":"|Amplitude|","scale":{"domain":[-51,781],"nice":false},"axis":{"values":[0,200,400,600],"tickCount":20,"labelOverlap":false,"minExtent":15,"maxExtent":15}}}},
{"mark":{"type":"line","color":"#1f35e0","strokeWidth":2},"encoding":{"y":{"field":"a","type":"quantitative","title":"|Amplitude|"}}},
{"mark":{"type":"line","color":"#000","strokeWidth":1,"strokeDash":[2.5,1.5]},"encoding":{"y":{"field":"k","type":"quantitative","title":"|Amplitude|"}}}]},
{"width":64,"height":45,"transform":[{"filter":"datum.c==2"}],"encoding":{"x":{"field":"b","type":"quantitative","title":"b/λ","scale":{"domain":[-6.3,6.3],"nice":false},"axis":{"values":[-6,-4,-2,0,2,4,6],"tickCount":20}}},"layer":[
{"mark":{"type":"rule","color":"#888","strokeWidth":0.8},"transform":[{"filter":"datum.b==0"}],"encoding":{"x":{"datum":0}}},
{"mark":{"type":"line","color":"#4f9a35","strokeWidth":0.9,"strokeDash":[2.5,1.5]},"encoding":{"y":{"field":"g","type":"quantitative","title":null,"scale":{"domain":[-5.2,81],"nice":false},"axis":{"values":[0,20,40,60,80],"tickCount":20,"labelOverlap":false,"minExtent":22,"maxExtent":22}}}},
{"mark":{"type":"line","color":"#1f35e0","strokeWidth":2},"encoding":{"y":{"field":"a","type":"quantitative","title":null}}},
{"mark":{"type":"line","color":"#000","strokeWidth":1,"strokeDash":[2.5,1.5]},"encoding":{"y":{"field":"k","type":"quantitative","title":null}}}]},
{"width":64,"height":45,"transform":[{"filter":"datum.c==3"}],"encoding":{"x":{"field":"b","type":"quantitative","title":"b/λ","scale":{"domain":[-6.3,6.3],"nice":false},"axis":{"values":[-6,-4,-2,0,2,4,6],"tickCount":20}}},"layer":[
{"mark":{"type":"rule","color":"#888","strokeWidth":0.8},"transform":[{"filter":"datum.b==0"}],"encoding":{"x":{"datum":0}}},
{"mark":{"type":"line","color":"#4f9a35","strokeWidth":0.9,"strokeDash":[2.5,1.5]},"encoding":{"y":{"field":"g","type":"quantitative","title":null,"scale":{"domain":[-0.28,4.35],"nice":false},"axis":{"values":[0,1,2,3,4],"tickCount":20,"labelOverlap":false,"minExtent":15,"maxExtent":15}}}},
{"mark":{"type":"line","color":"#1f35e0","strokeWidth":2},"encoding":{"y":{"field":"a","type":"quantitative","title":null}}},
{"mark":{"type":"line","color":"#000","strokeWidth":1,"strokeDash":[2.5,1.5]},"encoding":{"y":{"field":"k","type":"quantitative","title":null}}}]},
{"width":64,"height":45,"transform":[{"filter":"datum.c==4"}],"encoding":{"x":{"field":"b","type":"quantitative","title":"b/λ","scale":{"domain":[-6.3,6.3],"nice":false},"axis":{"values":[-6,-4,-2,0,2,4,6],"tickCount":20}}},"layer":[
{"mark":{"type":"rule","color":"#888","strokeWidth":0.8},"transform":[{"filter":"datum.b==0"}],"encoding":{"x":{"datum":0}}},
{"mark":{"type":"line","color":"#4f9a35","strokeWidth":0.9,"strokeDash":[2.5,1.5]},"encoding":{"y":{"field":"g","type":"quantitative","title":null,"scale":{"domain":[-0.0047,0.0717],"nice":false},"axis":{"values":[0,0.01,0.02,0.03,0.04,0.05,0.06,0.07],"format":".2f","tickCount":20,"labelOverlap":false,"minExtent":22,"maxExtent":22}}}},
{"mark":{"type":"line","color":"#1f35e0","strokeWidth":2},"encoding":{"y":{"field":"a","type":"quantitative","title":null}}},
{"mark":{"type":"line","color":"#000","strokeWidth":1,"strokeDash":[2.5,1.5]},"encoding":{"y":{"field":"a","type":"quantitative","title":null}}}]}
]},
{"title":"mγ = -1, Λ = -1, mI = -1/2, mF = -3/2 to +3/2","data":{"name":"r2"},"spacing":0,"hconcat":[
{"width":64,"height":45,"transform":[{"filter":"datum.c==1"}],"encoding":{"x":{"field":"b","type":"quantitative","title":"b/λ","scale":{"domain":[-6.3,6.3],"nice":false},"axis":{"values":[-6,-4,-2,0,2,4,6],"tickCount":20}}},"layer":[
{"mark":{"type":"rule","color":"#888","strokeWidth":0.8},"transform":[{"filter":"datum.b==0"}],"encoding":{"x":{"datum":0}}},
{"mark":{"type":"line","color":"#4f9a35","strokeWidth":0.9,"strokeDash":[2.5,1.5]},"encoding":{"y":{"field":"g","type":"quantitative","title":"|Amplitude|","scale":{"domain":[-88,1348],"nice":false},"axis":{"values":[0,200,400,600,800,1000,1200],"tickCount":20,"labelOverlap":false,"minExtent":15,"maxExtent":15}}}},
{"mark":{"type":"line","color":"#e0301a","strokeWidth":2},"encoding":{"y":{"field":"a","type":"quantitative","title":"|Amplitude|"}}},
{"mark":{"type":"line","color":"#000","strokeWidth":1,"strokeDash":[2.5,1.5]},"encoding":{"y":{"field":"k","type":"quantitative","title":"|Amplitude|"}}}]},
{"width":64,"height":45,"transform":[{"filter":"datum.c==2"}],"encoding":{"x":{"field":"b","type":"quantitative","title":"b/λ","scale":{"domain":[-6.3,6.3],"nice":false},"axis":{"values":[-6,-4,-2,0,2,4,6],"tickCount":20}}},"layer":[
{"mark":{"type":"rule","color":"#888","strokeWidth":0.8},"transform":[{"filter":"datum.b==0"}],"encoding":{"x":{"datum":0}}},
{"mark":{"type":"line","color":"#4f9a35","strokeWidth":0.9,"strokeDash":[2.5,1.5]},"encoding":{"y":{"field":"g","type":"quantitative","title":null,"scale":{"domain":[-6.4,98.3],"nice":false},"axis":{"values":[0,20,40,60,80],"tickCount":20,"labelOverlap":false,"minExtent":22,"maxExtent":22}}}},
{"mark":{"type":"line","color":"#1f35e0","strokeWidth":2},"encoding":{"y":{"field":"a","type":"quantitative","title":null}}},
{"mark":{"type":"line","color":"#000","strokeWidth":1,"strokeDash":[2.5,1.5]},"encoding":{"y":{"field":"k","type":"quantitative","title":null}}}]},
{"width":64,"height":45,"transform":[{"filter":"datum.c==3"}],"encoding":{"x":{"field":"b","type":"quantitative","title":"b/λ","scale":{"domain":[-6.3,6.3],"nice":false},"axis":{"values":[-6,-4,-2,0,2,4,6],"tickCount":20}}},"layer":[
{"mark":{"type":"rule","color":"#888","strokeWidth":0.8},"transform":[{"filter":"datum.b==0"}],"encoding":{"x":{"datum":0}}},
{"mark":{"type":"line","color":"#4f9a35","strokeWidth":0.9,"strokeDash":[2.5,1.5]},"encoding":{"y":{"field":"g","type":"quantitative","title":null,"scale":{"domain":[-0.31,4.81],"nice":false},"axis":{"values":[0,1,2,3,4],"tickCount":20,"labelOverlap":false,"minExtent":15,"maxExtent":15}}}},
{"mark":{"type":"line","color":"#1f35e0","strokeWidth":2},"encoding":{"y":{"field":"a","type":"quantitative","title":null}}},
{"mark":{"type":"line","color":"#000","strokeWidth":1,"strokeDash":[2.5,1.5]},"encoding":{"y":{"field":"k","type":"quantitative","title":null}}}]},
{"width":64,"height":45,"transform":[{"filter":"datum.c==4"}],"encoding":{"x":{"field":"b","type":"quantitative","title":"b/λ","scale":{"domain":[-6.3,6.3],"nice":false},"axis":{"values":[-6,-4,-2,0,2,4,6],"tickCount":20}}},"layer":[
{"mark":{"type":"rule","color":"#888","strokeWidth":0.8},"transform":[{"filter":"datum.b==0"}],"encoding":{"x":{"datum":0}}},
{"mark":{"type":"line","color":"#4f9a35","strokeWidth":0.9,"strokeDash":[2.5,1.5]},"encoding":{"y":{"field":"g","type":"quantitative","title":null,"scale":{"domain":[-0.0049,0.0751],"nice":false},"axis":{"values":[0,0.02,0.04,0.06],"format":".2f","tickCount":20,"labelOverlap":false,"minExtent":22,"maxExtent":22}}}},
{"mark":{"type":"line","color":"#1f35e0","strokeWidth":2},"encoding":{"y":{"field":"a","type":"quantitative","title":null}}},
{"mark":{"type":"line","color":"#000","strokeWidth":1,"strokeDash":[2.5,1.5]},"encoding":{"y":{"field":"a","type":"quantitative","title":null}}}]}
]},
{"title":"mγ = 0, Λ = -1, mI = -1/2, mF = -3/2 to +3/2","data":{"name":"r3"},"spacing":0,"hconcat":[
{"width":64,"height":45,"transform":[{"filter":"datum.c==1"}],"encoding":{"x":{"field":"b","type":"quantitative","title":"b/λ","scale":{"domain":[-6.3,6.3],"nice":false},"axis":{"values":[-6,-4,-2,0,2,4,6],"tickCount":20}}},"layer":[
{"mark":{"type":"rule","color":"#888","strokeWidth":0.8},"transform":[{"filter":"datum.b==0"}],"encoding":{"x":{"datum":0}}},
{"mark":{"type":"line","color":"#4f9a35","strokeWidth":0.9,"strokeDash":[2.5,1.5]},"encoding":{"y":{"field":"g","type":"quantitative","title":"|Amplitude|","scale":{"domain":[-50,770],"nice":false},"axis":{"values":[0,200,400,600],"tickCount":20,"labelOverlap":false,"minExtent":15,"maxExtent":15}}}},
{"mark":{"type":"line","color":"#1f35e0","strokeWidth":2},"encoding":{"y":{"field":"a","type":"quantitative","title":"|Amplitude|"}}},
{"mark":{"type":"line","color":"#000","strokeWidth":1,"strokeDash":[2.5,1.5]},"encoding":{"y":{"field":"k","type":"quantitative","title":"|Amplitude|"}}}]},
{"width":64,"height":45,"transform":[{"filter":"datum.c==2"}],"encoding":{"x":{"field":"b","type":"quantitative","title":"b/λ","scale":{"domain":[-6.3,6.3],"nice":false},"axis":{"values":[-6,-4,-2,0,2,4,6],"tickCount":20}}},"layer":[
{"mark":{"type":"rule","color":"#888","strokeWidth":0.8},"transform":[{"filter":"datum.b==0"}],"encoding":{"x":{"datum":0}}},
{"mark":{"type":"line","color":"#4f9a35","strokeWidth":0.9,"strokeDash":[2.5,1.5]},"encoding":{"y":{"field":"g","type":"quantitative","title":null,"scale":{"domain":[-10.9,166],"nice":false},"axis":{"values":[0,50,100,150],"tickCount":20,"labelOverlap":false,"minExtent":22,"maxExtent":22}}}},
{"mark":{"type":"line","color":"#e0301a","strokeWidth":2},"encoding":{"y":{"field":"a","type":"quantitative","title":null}}},
{"mark":{"type":"line","color":"#000","strokeWidth":1,"strokeDash":[2.5,1.5]},"encoding":{"y":{"field":"k","type":"quantitative","title":null}}}]},
{"width":64,"height":45,"transform":[{"filter":"datum.c==3"}],"encoding":{"x":{"field":"b","type":"quantitative","title":"b/λ","scale":{"domain":[-6.3,6.3],"nice":false},"axis":{"values":[-6,-4,-2,0,2,4,6],"tickCount":20}}},"layer":[
{"mark":{"type":"rule","color":"#888","strokeWidth":0.8},"transform":[{"filter":"datum.b==0"}],"encoding":{"x":{"datum":0}}},
{"mark":{"type":"line","color":"#4f9a35","strokeWidth":0.9,"strokeDash":[2.5,1.5]},"encoding":{"y":{"field":"g","type":"quantitative","title":null,"scale":{"domain":[-0.385,5.885],"nice":false},"axis":{"values":[0,1,2,3,4,5],"tickCount":20,"labelOverlap":false,"minExtent":15,"maxExtent":15}}}},
{"mark":{"type":"line","color":"#1f35e0","strokeWidth":2},"encoding":{"y":{"field":"a","type":"quantitative","title":null}}},
{"mark":{"type":"line","color":"#000","strokeWidth":1,"strokeDash":[2.5,1.5]},"encoding":{"y":{"field":"k","type":"quantitative","title":null}}}]},
{"width":64,"height":45,"transform":[{"filter":"datum.c==4"}],"encoding":{"x":{"field":"b","type":"quantitative","title":"b/λ","scale":{"domain":[-6.3,6.3],"nice":false},"axis":{"values":[-6,-4,-2,0,2,4,6],"tickCount":20}}},"layer":[
{"mark":{"type":"rule","color":"#888","strokeWidth":0.8},"transform":[{"filter":"datum.b==0"}],"encoding":{"x":{"datum":0}}},
{"mark":{"type":"line","color":"#4f9a35","strokeWidth":0.9,"strokeDash":[2.5,1.5]},"encoding":{"y":{"field":"g","type":"quantitative","title":null,"scale":{"domain":[-0.0056,0.0855],"nice":false},"axis":{"values":[0,0.02,0.04,0.06,0.08],"format":".2f","tickCount":20,"labelOverlap":false,"minExtent":22,"maxExtent":22}}}},
{"mark":{"type":"line","color":"#1f35e0","strokeWidth":2},"encoding":{"y":{"field":"a","type":"quantitative","title":null}}},
{"mark":{"type":"line","color":"#000","strokeWidth":1,"strokeDash":[2.5,1.5]},"encoding":{"y":{"field":"a","type":"quantitative","title":null}}}]}
]},
{"title":"mγ = 0, Λ = 1, mI = -1/2, mF = -3/2 to +3/2","data":{"name":"r4"},"spacing":0,"hconcat":[
{"width":64,"height":45,"transform":[{"filter":"datum.c==1"}],"encoding":{"x":{"field":"b","type":"quantitative","title":"b/λ","scale":{"domain":[-6.3,6.3],"nice":false},"axis":{"values":[-6,-4,-2,0,2,4,6],"tickCount":20}}},"layer":[
{"mark":{"type":"rule","color":"#888","strokeWidth":0.8},"transform":[{"filter":"datum.b==0"}],"encoding":{"x":{"datum":0}}},
{"mark":{"type":"line","color":"#4f9a35","strokeWidth":0.9,"strokeDash":[2.5,1.5]},"encoding":{"y":{"field":"g","type":"quantitative","title":"|Amplitude|","scale":{"domain":[-0.5,7.71],"nice":false},"axis":{"values":[0,2,4,6],"tickCount":20,"labelOverlap":false,"minExtent":15,"maxExtent":15}}}},
{"mark":{"type":"line","color":"#1f35e0","strokeWidth":2},"encoding":{"y":{"field":"a","type":"quantitative","title":"|Amplitude|"}}},
{"mark":{"type":"line","color":"#000","strokeWidth":1,"strokeDash":[2.5,1.5]},"encoding":{"y":{"field":"k","type":"quantitative","title":"|Amplitude|"}}}]},
{"width":64,"height":45,"transform":[{"filter":"datum.c==2"}],"encoding":{"x":{"field":"b","type":"quantitative","title":"b/λ","scale":{"domain":[-6.3,6.3],"nice":false},"axis":{"values":[-6,-4,-2,0,2,4,6],"tickCount":20}}},"layer":[
{"mark":{"type":"rule","color":"#888","strokeWidth":0.8},"transform":[{"filter":"datum.b==0"}],"encoding":{"x":{"datum":0}}},
{"mark":{"type":"line","color":"#4f9a35","strokeWidth":0.9,"strokeDash":[2.5,1.5]},"encoding":{"y":{"field":"g","type":"quantitative","title":null,"scale":{"domain":[-9.7,151],"nice":false},"axis":{"values":[0,50,100,150],"tickCount":20,"labelOverlap":false,"minExtent":22,"maxExtent":22}}}},
{"mark":{"type":"line","color":"#e0301a","strokeWidth":2},"encoding":{"y":{"field":"a","type":"quantitative","title":null}}},
{"mark":{"type":"line","color":"#000","strokeWidth":1,"strokeDash":[2.5,1.5]},"encoding":{"y":{"field":"k","type":"quantitative","title":null}}}]},
{"width":64,"height":45,"transform":[{"filter":"datum.c==3"}],"encoding":{"x":{"field":"b","type":"quantitative","title":"b/λ","scale":{"domain":[-6.3,6.3],"nice":false},"axis":{"values":[-6,-4,-2,0,2,4,6],"tickCount":20}}},"layer":[
{"mark":{"type":"rule","color":"#888","strokeWidth":0.8},"transform":[{"filter":"datum.b==0"}],"encoding":{"x":{"datum":0}}},
{"mark":{"type":"line","color":"#4f9a35","strokeWidth":0.9,"strokeDash":[2.5,1.5]},"encoding":{"y":{"field":"g","type":"quantitative","title":null,"scale":{"domain":[-28.5,435.5],"nice":false},"axis":{"values":[0,100,200,300,400],"tickCount":20,"labelOverlap":false,"minExtent":15,"maxExtent":15}}}},
{"mark":{"type":"line","color":"#1f35e0","strokeWidth":2},"encoding":{"y":{"field":"a","type":"quantitative","title":null}}},
{"mark":{"type":"line","color":"#000","strokeWidth":1,"strokeDash":[2.5,1.5]},"encoding":{"y":{"field":"k","type":"quantitative","title":null}}}]},
{"width":64,"height":45,"transform":[{"filter":"datum.c==4"}],"encoding":{"x":{"field":"b","type":"quantitative","title":"b/λ","scale":{"domain":[-6.3,6.3],"nice":false},"axis":{"values":[-6,-4,-2,0,2,4,6],"tickCount":20}}},"layer":[
{"mark":{"type":"rule","color":"#888","strokeWidth":0.8},"transform":[{"filter":"datum.b==0"}],"encoding":{"x":{"datum":0}}},
{"mark":{"type":"line","color":"#4f9a35","strokeWidth":0.9,"strokeDash":[2.5,1.5]},"encoding":{"y":{"field":"g","type":"quantitative","title":null,"scale":{"domain":[-0.53,8.15],"nice":false},"axis":{"values":[0,2,4,6,8],"tickCount":20,"labelOverlap":false,"minExtent":22,"maxExtent":22}}}},
{"mark":{"type":"line","color":"#1f35e0","strokeWidth":2},"encoding":{"y":{"field":"a","type":"quantitative","title":null}}},
{"mark":{"type":"line","color":"#000","strokeWidth":1,"strokeDash":[2.5,1.5]},"encoding":{"y":{"field":"a","type":"quantitative","title":null}}}]}
]},
{"title":"mγ = 1, Λ = 1, mI = -1/2, mF = -3/2 to +3/2","data":{"name":"r5"},"spacing":0,"hconcat":[
{"width":64,"height":45,"transform":[{"filter":"datum.c==1"}],"encoding":{"x":{"field":"b","type":"quantitative","title":"b/λ","scale":{"domain":[-6.3,6.3],"nice":false},"axis":{"values":[-6,-4,-2,0,2,4,6],"tickCount":20}}},"layer":[
{"mark":{"type":"rule","color":"#888","strokeWidth":0.8},"transform":[{"filter":"datum.b==0"}],"encoding":{"x":{"datum":0}}},
{"mark":{"type":"line","color":"#4f9a35","strokeWidth":0.9,"strokeDash":[2.5,1.5]},"encoding":{"y":{"field":"g","type":"quantitative","title":"|Amplitude|","scale":{"domain":[-0.43,6.5],"nice":false},"axis":{"values":[0,1,2,3,4,5,6],"tickCount":20,"labelOverlap":false,"minExtent":15,"maxExtent":15}}}},
{"mark":{"type":"line","color":"#1f35e0","strokeWidth":2},"encoding":{"y":{"field":"a","type":"quantitative","title":"|Amplitude|"}}},
{"mark":{"type":"line","color":"#000","strokeWidth":1,"strokeDash":[2.5,1.5]},"encoding":{"y":{"field":"k","type":"quantitative","title":"|Amplitude|"}}}]},
{"width":64,"height":45,"transform":[{"filter":"datum.c==2"}],"encoding":{"x":{"field":"b","type":"quantitative","title":"b/λ","scale":{"domain":[-6.3,6.3],"nice":false},"axis":{"values":[-6,-4,-2,0,2,4,6],"tickCount":20}}},"layer":[
{"mark":{"type":"rule","color":"#888","strokeWidth":0.8},"transform":[{"filter":"datum.b==0"}],"encoding":{"x":{"datum":0}}},
{"mark":{"type":"line","color":"#4f9a35","strokeWidth":0.9,"strokeDash":[2.5,1.5]},"encoding":{"y":{"field":"g","type":"quantitative","title":null,"scale":{"domain":[-5.7,87.5],"nice":false},"axis":{"values":[0,20,40,60,80],"tickCount":20,"labelOverlap":false,"minExtent":22,"maxExtent":22}}}},
{"mark":{"type":"line","color":"#1f35e0","strokeWidth":2},"encoding":{"y":{"field":"a","type":"quantitative","title":null}}},
{"mark":{"type":"line","color":"#000","strokeWidth":1,"strokeDash":[2.5,1.5]},"encoding":{"y":{"field":"k","type":"quantitative","title":null}}}]},
{"width":64,"height":45,"transform":[{"filter":"datum.c==3"}],"encoding":{"x":{"field":"b","type":"quantitative","title":"b/λ","scale":{"domain":[-6.3,6.3],"nice":false},"axis":{"values":[-6,-4,-2,0,2,4,6],"tickCount":20}}},"layer":[
{"mark":{"type":"rule","color":"#888","strokeWidth":0.8},"transform":[{"filter":"datum.b==0"}],"encoding":{"x":{"datum":0}}},
{"mark":{"type":"line","color":"#4f9a35","strokeWidth":0.9,"strokeDash":[2.5,1.5]},"encoding":{"y":{"field":"g","type":"quantitative","title":null,"scale":{"domain":[-48,737],"nice":false},"axis":{"values":[0,100,200,300,400,500,600,700],"tickCount":20,"labelOverlap":false,"minExtent":15,"maxExtent":15}}}},
{"mark":{"type":"line","color":"#e0301a","strokeWidth":2},"encoding":{"y":{"field":"a","type":"quantitative","title":null}}},
{"mark":{"type":"line","color":"#000","strokeWidth":1,"strokeDash":[2.5,1.5]},"encoding":{"y":{"field":"k","type":"quantitative","title":null}}}]},
{"width":64,"height":45,"transform":[{"filter":"datum.c==4"}],"encoding":{"x":{"field":"b","type":"quantitative","title":"b/λ","scale":{"domain":[-6.3,6.3],"nice":false},"axis":{"values":[-6,-4,-2,0,2,4,6],"tickCount":20}}},"layer":[
{"mark":{"type":"rule","color":"#888","strokeWidth":0.8},"transform":[{"filter":"datum.b==0"}],"encoding":{"x":{"datum":0}}},
{"mark":{"type":"line","color":"#4f9a35","strokeWidth":0.9,"strokeDash":[2.5,1.5]},"encoding":{"y":{"field":"g","type":"quantitative","title":null,"scale":{"domain":[-0.64,9.83],"nice":false},"axis":{"values":[0,2,4,6,8],"tickCount":20,"labelOverlap":false,"minExtent":22,"maxExtent":22}}}},
{"mark":{"type":"line","color":"#1f35e0","strokeWidth":2},"encoding":{"y":{"field":"a","type":"quantitative","title":null}}},
{"mark":{"type":"line","color":"#000","strokeWidth":1,"strokeDash":[2.5,1.5]},"encoding":{"y":{"field":"a","type":"quantitative","title":null}}}]}
]},
{"title":"mγ = 2, Λ = 1, mI = -1/2, mF = -3/2 to +3/2","data":{"name":"r6"},"spacing":0,"hconcat":[
{"width":64,"height":45,"transform":[{"filter":"datum.c==1"}],"encoding":{"x":{"field":"b","type":"quantitative","title":"b/λ","scale":{"domain":[-6.3,6.3],"nice":false},"axis":{"values":[-6,-4,-2,0,2,4,6],"tickCount":20}}},"layer":[
{"mark":{"type":"rule","color":"#888","strokeWidth":0.8},"transform":[{"filter":"datum.b==0"}],"encoding":{"x":{"datum":0}}},
{"mark":{"type":"line","color":"#4f9a35","strokeWidth":0.9,"strokeDash":[2.5,1.5]},"encoding":{"y":{"field":"g","type":"quantitative","title":"|Amplitude|","scale":{"domain":[-0.37,5.72],"nice":false},"axis":{"values":[0,1,2,3,4,5],"tickCount":20,"labelOverlap":false,"minExtent":15,"maxExtent":15}}}},
{"mark":{"type":"line","color":"#1f35e0","strokeWidth":2},"encoding":{"y":{"field":"a","type":"quantitative","title":"|Amplitude|"}}},
{"mark":{"type":"line","color":"#000","strokeWidth":1,"strokeDash":[2.5,1.5]},"encoding":{"y":{"field":"k","type":"quantitative","title":"|Amplitude|"}}}]},
{"width":64,"height":45,"transform":[{"filter":"datum.c==2"}],"encoding":{"x":{"field":"b","type":"quantitative","title":"b/λ","scale":{"domain":[-6.3,6.3],"nice":false},"axis":{"values":[-6,-4,-2,0,2,4,6],"tickCount":20}}},"layer":[
{"mark":{"type":"rule","color":"#888","strokeWidth":0.8},"transform":[{"filter":"datum.b==0"}],"encoding":{"x":{"datum":0}}},
{"mark":{"type":"line","color":"#4f9a35","strokeWidth":0.9,"strokeDash":[2.5,1.5]},"encoding":{"y":{"field":"g","type":"quantitative","title":null,"scale":{"domain":[-4.8,73.6],"nice":false},"axis":{"values":[0,10,20,30,40,50,60,70],"tickCount":20,"labelOverlap":false,"minExtent":22,"maxExtent":22}}}},
{"mark":{"type":"line","color":"#1f35e0","strokeWidth":2},"encoding":{"y":{"field":"a","type":"quantitative","title":null}}},
{"mark":{"type":"line","color":"#000","strokeWidth":1,"strokeDash":[2.5,1.5]},"encoding":{"y":{"field":"k","type":"quantitative","title":null}}}]},
{"width":64,"height":45,"transform":[{"filter":"datum.c==3"}],"encoding":{"x":{"field":"b","type":"quantitative","title":"b/λ","scale":{"domain":[-6.3,6.3],"nice":false},"axis":{"values":[-6,-4,-2,0,2,4,6],"tickCount":20}}},"layer":[
{"mark":{"type":"rule","color":"#888","strokeWidth":0.8},"transform":[{"filter":"datum.b==0"}],"encoding":{"x":{"datum":0}}},
{"mark":{"type":"line","color":"#4f9a35","strokeWidth":0.9,"strokeDash":[2.5,1.5]},"encoding":{"y":{"field":"g","type":"quantitative","title":null,"scale":{"domain":[-28,428],"nice":false},"axis":{"values":[0,100,200,300,400],"tickCount":20,"labelOverlap":false,"minExtent":15,"maxExtent":15}}}},
{"mark":{"type":"line","color":"#1f35e0","strokeWidth":2},"encoding":{"y":{"field":"a","type":"quantitative","title":null}}},
{"mark":{"type":"line","color":"#000","strokeWidth":1,"strokeDash":[2.5,1.5]},"encoding":{"y":{"field":"k","type":"quantitative","title":null}}}]},
{"width":64,"height":45,"transform":[{"filter":"datum.c==4"}],"encoding":{"x":{"field":"b","type":"quantitative","title":"b/λ","scale":{"domain":[-6.3,6.3],"nice":false},"axis":{"values":[-6,-4,-2,0,2,4,6],"tickCount":20}}},"layer":[
{"mark":{"type":"rule","color":"#888","strokeWidth":0.8},"transform":[{"filter":"datum.b==0"}],"encoding":{"x":{"datum":0}}},
{"mark":{"type":"line","color":"#4f9a35","strokeWidth":0.9,"strokeDash":[2.5,1.5]},"encoding":{"y":{"field":"g","type":"quantitative","title":null,"scale":{"domain":[-1.1,16.6],"nice":false},"axis":{"values":[0,5,10,15],"tickCount":20,"labelOverlap":false,"minExtent":22,"maxExtent":22}}}},
{"mark":{"type":"line","color":"#e0301a","strokeWidth":2},"encoding":{"y":{"field":"a","type":"quantitative","title":null}}},
{"mark":{"type":"line","color":"#000","strokeWidth":1,"strokeDash":[2.5,1.5]},"encoding":{"y":{"field":"a","type":"quantitative","title":null}}}]}
]}
]
}
